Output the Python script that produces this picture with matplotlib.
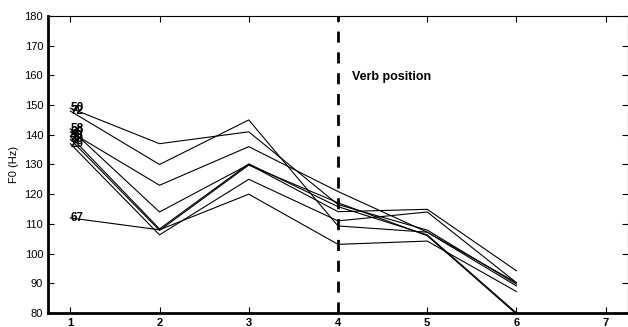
import numpy as np
from matplotlib import pyplot as plt

plt.rcParams['font.family'] = ['Liberation Sans', 'DejaVu Sans']

positions = [1, 2, 3, 4, 5, 6]
labels = ["50", "72", "58", "60", "40", "30", "29", "67"]
f0 = [
    [149, 137, 141, 116.5, 107.9, 89.7],
    [148, 130, 145, 109.3, 107.2, 89.1],
    [142, 114, 130, 114.1, 114.9, 94.2],
    [141, 123, 136, 120.9, 107.2, 90.2],
    [139.5, 108.3, 130.2, 115.8, 106.3, 80],
    [138.5, 107.8, 129.8, 117.1, 106.0, 79.6],
    [137, 106.3, 125, 111, 114, 90.2],
    [112, 108, 120, 103.1, 104.2, 87.2],
]
verb_pos = 4

fig = plt.figure(figsize=(6.28, 3.27), dpi=100)
ax = fig.add_axes([0.0764, 0.043, 0.9236, 0.908])

for lab, vals in zip(labels, f0):
    ax.plot(positions, vals, color="black", linewidth=0.8)
    ax.text(positions[0], vals[0], lab, fontsize=8.5, fontweight="bold",
            ha="left", va="center")

ax.axvline(verb_pos, color="black", linewidth=2, linestyle=(0, (4, 3.5)))
ax.text(4.16, 159.5, "Verb position", fontsize=9, fontweight="bold",
        ha="left", va="center")

ax.set_xlim(0.75, 7.25)
ax.set_ylim(80, 180)
ax.set_xticks(range(1, 8))
ax.set_xticklabels([str(i) for i in range(1, 8)], fontweight="bold")
ax.set_yticks(range(80, 181, 10))
ax.tick_params(direction="in", top=True, right=True, labelsize=8, length=4, width=0.8)
ax.set_ylabel("F0 (Hz)", fontsize=8)
ax.spines["left"].set_linewidth(2)
ax.spines["bottom"].set_linewidth(2)
ax.spines["top"].set_linewidth(0.8)
ax.spines["right"].set_linewidth(0.8)

fig.savefig("out.png")
